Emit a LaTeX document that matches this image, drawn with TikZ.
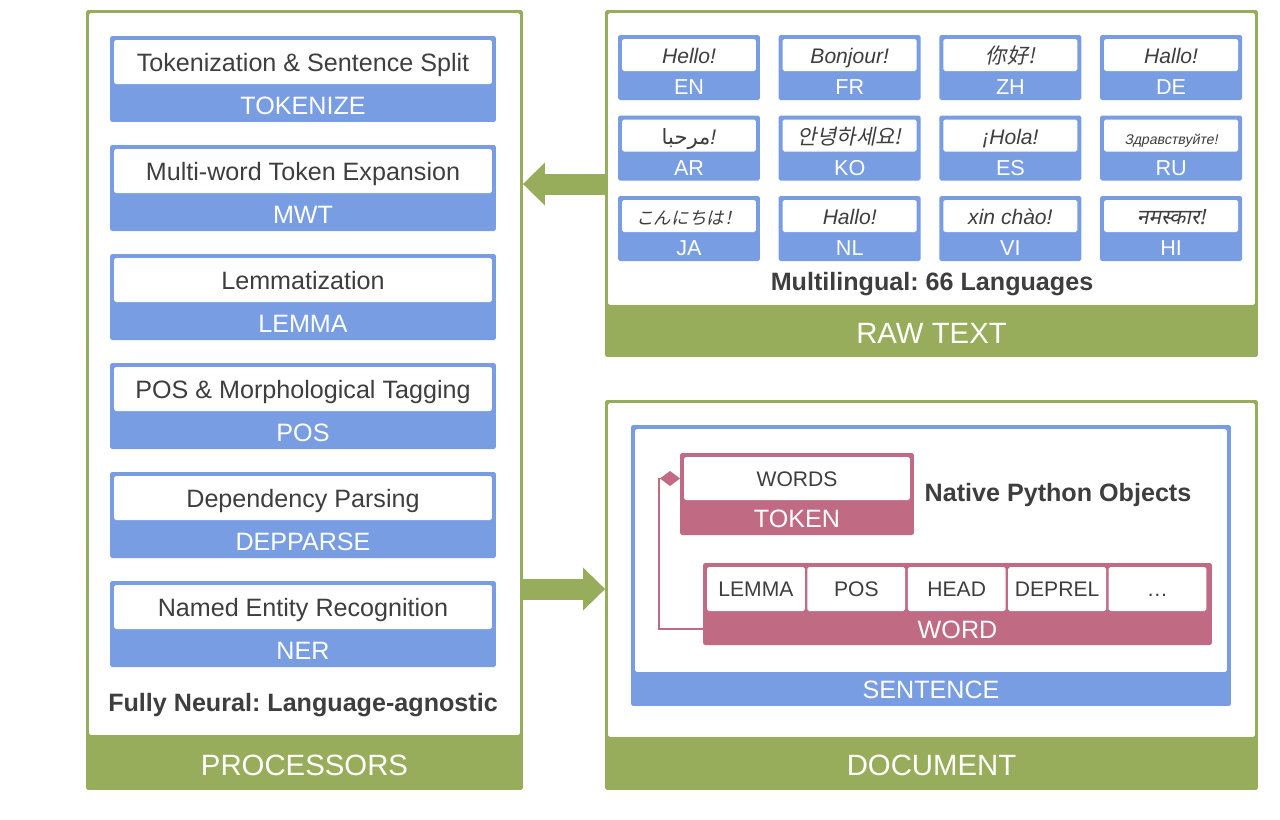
\documentclass[tikz,border=0pt]{standalone}
\usepackage{fontspec}
\setmainfont{Liberation Sans}
\newfontfamily\cjkfont[FakeSlant=0.2]{Noto Sans CJK SC}
\newfontfamily\arfont[Script=Arabic]{DejaVu Sans}
\newfontfamily\hifont[Script=Devanagari,FakeSlant=0.2]{Noto Sans}
\newfontfamily\slantfont[FakeSlant=0.2]{Liberation Sans}
\TeXXeTstate=1
\frenchspacing
\usetikzlibrary{arrows.meta}
\usetikzlibrary{calc}

\definecolor{panelgreen}{RGB}{152,173,91}
\definecolor{boxblue}{RGB}{120,157,226}
\definecolor{objpink}{RGB}{192,106,132}
\definecolor{ink}{RGB}{62,62,62}

\tikzset{
  box/.style={inner sep=0pt, outer sep=0pt, rounded corners=1pt},
  greenbox/.style={box, fill=panelgreen},
  bluebox/.style={box, fill=boxblue},
  pinkbox/.style={box, fill=objpink},
  whitebox/.style={box, fill=white},
  bandtext/.style={text=white, font=\fontsize{14.3}{16}\selectfont, text height=10.3pt, text depth=0pt},
  bigband/.style={text=white, font=\fontsize{16.7}{19}\selectfont, text height=12pt, text depth=0pt},
  inktext/.style={text=ink, font=\fontsize{14.3}{16}\selectfont, text height=10.3pt, text depth=0pt},
  smalltext/.style={text=ink, font=\fontsize{12}{14}\selectfont, text height=8.6pt, text depth=0pt},
  boldtext/.style={text=ink, font=\bfseries\fontsize{14.3}{16}\selectfont, text height=10.3pt, text depth=0pt},
  blockarrow/.style={panelgreen, line width=0.42cm,
    -{Triangle[length=0.44cm,width=0.86cm,line width=0pt]}}
}

\begin{document}
\begin{tikzpicture}[x=0.02cm, y=-0.02cm]
\useasboundingbox (0,0) rectangle (1280,819);

% processors
\node[greenbox, minimum width=8.74cm, minimum height=15.6cm] (procpanel) at (304.5,400) {};
\node[whitebox, minimum width=8.62cm, minimum height=14.44cm] (procinner) at (304.5,374) {};
\node[bigband] (proclab) at (304.5,765) {PROCESSORS};

\foreach \desc/\lab [count=\i from 0] in {Tokenization \& Sentence Split/TOKENIZE,
    Multi-word Token Expansion/MWT, Lemmatization/LEMMA,
    POS \& Morphological Tagging/POS, Dependency Parsing/DEPPARSE,
    Named Entity Recognition/NER}
{
  \node[bluebox, minimum width=7.72cm, minimum height=1.72cm] (proc\i) at (303,79+109*\i) {};
  \node[whitebox, inktext, minimum width=7.56cm, minimum height=0.88cm] (procdesc\i) at (303,62+109*\i) {\desc};
  \node[bandtext] (proclab\i) at (303,105+109*\i) {\lab};
}
\node[boldtext] (neural) at (303,702) {Fully Neural: Language-agnostic};

% raw text
\node[greenbox, minimum width=13.06cm, minimum height=6.94cm] (rawpanel) at (931.5,183.5) {};
\node[whitebox, minimum width=12.94cm, minimum height=5.84cm] (rawinner) at (931.5,159) {};
\node[bigband] (rawlab) at (931.5,333) {RAW TEXT};

\foreach \hello/\code [count=\k from 0] in {{\itshape Hello!}/EN, {\itshape Bonjour!}/FR,
    {\cjkfont 你好!}/ZH, {\itshape Hallo!}/DE,
    {{\arfont\beginR مرحبا\endR}\itshape !}/AR, {\cjkfont 안녕하세요!}/KO,
    {\itshape ¡Hola!}/ES, {\slantfont\fontsize{8}{9}\selectfont Здравствуйте!}/RU,
    {\cjkfont\fontsize{10}{12}\selectfont こんにちは！}/JA, {\itshape Hallo!}/NL,
    {\itshape xin chào!}/VI, {\hifont नमस्कार!}/HI}
{
  \pgfmathsetmacro\cx{689+160.7*mod(\k,4)}
  \pgfmathsetmacro\ty{35+80.5*int(\k/4)}
  \node[bluebox, minimum width=2.84cm, minimum height=1.3cm] (lang\k) at (\cx,\ty+32.5) {};
  \node[whitebox, smalltext, minimum width=2.68cm, minimum height=0.64cm] (hello\k) at (\cx,\ty+20) {};
  \node[smalltext] (greet\k) at (\cx,\ty+21) {\hello};
  \node[bandtext, font=\fontsize{12.3}{14}\selectfont, text height=8.8pt] (code\k) at (\cx,\ty+52) {\code};
}
\node[boldtext] (multi) at (932,281) {Multilingual: 66 Languages};

% document
\node[greenbox, minimum width=13.06cm, minimum height=7.8cm] (docpanel) at (931.5,595) {};
\node[whitebox, minimum width=12.94cm, minimum height=6.68cm] (docinner) at (931.5,570) {};
\node[bigband] (doclab) at (931.5,765) {DOCUMENT};

\node[bluebox, minimum width=12cm, minimum height=5.62cm] (sent) at (931,565.5) {};
\node[whitebox, minimum width=11.84cm, minimum height=4.86cm] (sentinner) at (931,550.5) {};
\node[bandtext] (sentlab) at (931,689) {SENTENCE};

\node[pinkbox, minimum width=4.68cm, minimum height=1.64cm] (token) at (797,494) {};
\node[whitebox, smalltext, minimum width=4.52cm, minimum height=0.86cm] (tokdesc) at (797,478.5) {WORDS};
\node[bandtext] (toklab) at (797,518) {TOKEN};
\node[boldtext] (native) at (1058,492) {Native Python Objects};

\node[pinkbox, minimum width=10.18cm, minimum height=1.64cm] (word) at (957.5,604) {};
\foreach \field [count=\j from 0] in {LEMMA,POS,HEAD,DEPREL,\dots}
  \node[whitebox, smalltext, minimum width=1.956cm, minimum height=0.88cm] (field\j) at (755.9+100.4*\j,589) {\field};
\node[bandtext] (wordlab) at (957.5,629) {WORD};

% connectors
\draw[objpink, line width=1.1pt, {Diamond[length=0.4cm,width=0.3cm]}-]
  (token.west |- tokdesc) -- ++(-21,0) |- (word.west |- wordlab);

\draw[blockarrow] (rawpanel.west |- 0,184) -- (procpanel.east |- 0,184);
\draw[blockarrow] (procpanel.east |- 0,589) -- (docpanel.west |- 0,589);
\end{tikzpicture}
\end{document}
